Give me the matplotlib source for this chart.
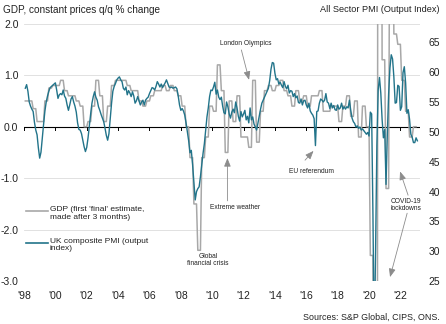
import numpy as np
import matplotlib.pyplot as plt

plt.rcParams['font.family'] = ['Liberation Sans', 'DejaVu Sans']

# UK composite PMI (output index), monthly, Jan 1998 onwards
pmi_1998_2002 = [
    57.3, 57.9, 56.8, 55.0, 54.3, 53.8, 53.4, 51.6, 50.3, 49.5, 47.3, 45.6,
    46.6, 49.0, 51.3, 53.5, 55.0, 56.0, 56.8, 57.4, 57.6, 57.8, 58.0, 58.2,
    57.0, 55.6, 56.2, 56.4, 56.2, 57.0, 56.0, 55.6, 54.5, 53.6, 54.5, 55.5,
    55.9, 55.0, 54.3, 53.3, 51.5, 50.4, 50.3, 49.7, 48.6, 47.5, 46.7, 47.4,
    49.0, 51.0, 53.0, 54.8, 55.9, 56.7, 55.8, 55.3, 54.2, 53.6, 52.9, 52.3,
]
pmi_2003_2007 = [
    51.7, 50.6, 49.4, 48.6, 49.7, 52.3, 54.8, 56.8, 57.6, 58.1, 58.7, 59.0,
    59.2, 58.7, 58.4, 57.3, 57.0, 57.5, 56.2, 56.9, 56.5, 55.9, 56.7, 56.0,
    54.8, 55.2, 55.9, 55.2, 54.5, 55.0, 55.3, 54.5, 55.3, 55.6, 55.8, 56.4,
    56.9, 57.4, 57.3, 57.0, 57.6, 58.4, 58.0, 57.5, 58.0, 57.4, 57.8, 58.2,
    58.7, 58.1, 57.5, 57.4, 57.5, 57.3, 57.4, 57.5, 57.2, 56.0, 54.5, 53.6,
]
pmi_2008_2012 = [
    53.9, 53.5, 52.8, 51.5, 50.0, 48.5, 46.5, 46.9, 44.5, 41.5, 38.6, 40.0,
    40.5, 40.8, 42.5, 44.5, 46.4, 48.0, 50.3, 52.5, 54.0, 55.9, 57.0, 56.9,
    57.5, 58.3, 56.3, 57.0, 55.8, 55.4, 55.8, 54.3, 53.2, 53.0, 55.0, 54.2,
    53.0, 52.3, 53.3, 53.8, 53.2, 55.0, 54.0, 52.6, 51.8, 53.4, 52.5, 53.0,
    53.6, 52.0, 52.6, 51.5, 54.0, 52.0, 52.5, 51.3, 50.8, 50.3, 51.5, 52.8,
]
pmi_2013_2017 = [
    53.8, 54.8, 55.3, 55.8, 56.3, 56.8, 57.3, 58.6, 60.5, 61.6, 61.5, 59.8,
    58.7, 58.9, 58.0, 58.3, 57.8, 57.4, 58.4, 57.6, 57.2, 57.8, 56.5, 56.9,
    56.8, 55.9, 56.4, 55.7, 56.0, 54.9, 54.8, 55.5, 54.5, 55.2, 55.3, 54.5,
    54.0, 54.8, 53.5, 53.1, 52.8, 52.2, 47.7, 53.4, 53.5, 54.8, 55.5, 55.3,
    55.0, 55.3, 56.4, 55.0, 54.8, 53.9, 54.8, 54.0, 54.4, 53.7, 53.6, 54.5,
]
pmi_2018_2023 = [
    53.8, 54.0, 54.8, 53.8, 54.2, 53.8, 54.2, 54.0, 55.3, 53.6, 52.3, 51.7,
    51.4, 50.8, 51.0, 50.6, 50.8, 50.3, 50.5, 50.2, 49.9, 49.6, 49.9, 49.3,
    53.3, 53.0, 36.0, 13.8, 30.0, 47.7, 57.0, 59.1, 56.5, 52.1, 49.0, 50.4,
    41.2, 49.6, 56.4, 60.7, 62.9, 62.2, 59.2, 54.8, 54.9, 57.8, 57.6, 53.6,
    54.2, 59.9, 60.9, 58.2, 53.1, 53.7, 52.1, 49.6, 49.1, 48.2, 48.2, 49.0,
    48.5,
]

# GDP q/q % change (first 'final' estimate), quarterly, 1998Q1 onwards
gdp_1998_2004 = [
    0.5, 0.5, 0.35, 0.1,
    0.1, 0.5, 0.75, 0.8,
    0.8, 0.9, 0.7, 0.6,
    0.6, 0.5, 0.4, 0.0,
    0.1, 0.4, 0.9, 0.6,
    0.1, 0.4, 0.8, 0.9,
    0.9, 0.9, 0.8, 0.7,
]
gdp_2005_2011 = [
    0.7, 0.5, 0.4, 0.5,
    0.6, 0.7, 0.7, 0.8,
    0.7, 0.8, 0.7, 0.6,
    0.4, 0.0, -0.6, -1.5,
    -2.4, -0.6, -0.2, 0.4,
    0.3, 1.2, 0.7, -0.5,
    0.5, 0.1, 0.6, -0.2,
]
gdp_2012_2018 = [
    -0.2, -0.4, 0.9, -0.3,
    0.3, 0.7, 0.8, 0.7,
    0.8, 0.9, 0.7, 0.6,
    0.4, 0.7, 0.5, 0.6,
    0.4, 0.6, 0.6, 0.7,
    0.3, 0.3, 0.4, 0.4,
    0.1, 0.4, 0.6, 0.2,
]
gdp_2019_2022 = [
    0.5, -0.2, 0.4, 0.0,
    -2.5, -19.8, 16.0, 1.3,
    -1.2, 5.5, 1.8, 1.6,
    0.9, 0.3, -0.2, 0.0,
]

year_ticks = list(range(1998, 2023, 2))
year_labels = ["'" + str(y)[2:] for y in year_ticks]
gdp_ticks = [-3, -2, -1, 0, 1, 2]
pmi_ticks = [25, 30, 35, 40, 45, 50, 55, 60, 65]

pmi = np.array(pmi_1998_2002 + pmi_2003_2007 + pmi_2008_2012 + pmi_2013_2017 + pmi_2018_2023)
gdp_q = np.array(gdp_1998_2004 + gdp_2005_2011 + gdp_2012_2018 + gdp_2019_2022)
gdp = np.repeat(gdp_q, 3)          # quarterly value held for each month of the quarter

# monthly values plotted at month end
pmi_x = 1998 + np.arange(1, len(pmi) + 1) / 12
gdp_x = 1998 + np.arange(1, len(gdp) + 1) / 12

TEAL = '#22748a'
GREY = '#a8a8a8'
TXT = '#222222'
ARROW = '#8c8c8c'

W, H = 446, 324
fig = plt.figure(figsize=(W / 100, H / 100), dpi=100)
ax = fig.add_axes([24 / W, 1 - 281.2 / H, 396 / W, 257.5 / H])
ax2 = ax.twinx()

ax.set_xlim(1998, 2023.25)
ax.set_ylim(-3, 2)
ax2.set_ylim(25, 68.1)

for y in gdp_ticks:
    ax.axhline(y, color='#dcdcdc', lw=0.6, zorder=0)
ax.axhline(0, color='black', lw=0.8, zorder=1)
for yr in year_ticks:
    ax.plot([yr, yr], [0, -0.06], color='black', lw=0.7, zorder=1)

ax.plot(gdp_x, gdp, color=GREY, lw=1.1, zorder=2)
ax2.plot(pmi_x, pmi, color=TEAL, lw=1.0, zorder=3)

for a in (ax, ax2):
    for s in a.spines.values():
        s.set_visible(False)

ax.set_yticks(gdp_ticks)
ax.set_yticklabels(['%.1f' % v for v in gdp_ticks])
ax.set_xticks(year_ticks)
ax.set_xticklabels(year_labels)
ax.tick_params(axis='both', length=0, labelsize=7.5, colors=TXT)
ax.tick_params(axis='y', pad=4)
ax.tick_params(axis='x', pad=7)
ax2.set_yticks(pmi_ticks)
ax2.tick_params(axis='y', length=0, labelsize=7.5, colors=TXT, pad=6)

# titles and source
fig.text(3 / W, 1 - 10 / H, 'GDP, constant prices q/q % change', fontsize=7.2,
         color=TXT, va='center', ha='left')
fig.text(439 / W, 1 - 10 / H, 'All Sector PMI (Output Index)', fontsize=6.6,
         color=TXT, va='center', ha='right')
fig.text(440 / W, 1 - 317 / H, 'Sources: S&P Global, CIPS, ONS.', fontsize=6.4,
         color=TXT, va='center', ha='right')

# legend drawn by hand so the swatch sits on the first text line
def fig_xy(px, py):
    return px / W, 1 - py / H

for (py, col, label) in [(211.3, GREY, "GDP (first 'final' estimate,\nmade after 3 months)"),
                         (242.7, TEAL, 'UK composite PMI (output\nindex)')]:
    x0, yy = fig_xy(26, py)
    x1, _ = fig_xy(48, py)
    fig.add_artist(plt.Line2D([x0, x1], [yy, yy], color=col, lw=1.2))
    tx, ty = fig_xy(50, py - 5)
    fig.text(tx, ty, label, fontsize=6, color=TXT, va='top', ha='left', linespacing=1.15)

# annotations
note = dict(fontsize=4.8, color=TXT, ha='center', va='center')
arrow = dict(arrowstyle='-|>,head_length=0.5,head_width=0.2', color=ARROW, lw=0.6,
             shrinkA=0, shrinkB=0)
ax.text(2012.16, 1.625, 'London Olympics', **note)
ax.annotate('', xy=(2012.35, 0.91), xytext=(2011.86, 1.49), arrowprops=arrow)
ax.text(2011.46, -1.56, 'Extreme weather', **note)
ax.annotate('', xy=(2010.97, -0.61), xytext=(2010.97, -1.44), arrowprops=arrow)
ax.text(2009.73, -2.594, 'Global\nfinancial crisis', linespacing=1.0, **note)
ax.text(2016.34, -0.866, 'EU referendum', **note)
ax.annotate('', xy=(2016.46, -0.47), xytext=(2015.92, -0.65), arrowprops=arrow)
ax.text(2022.33, -1.515, 'COVID-19\nlockdowns', linespacing=1.0, **note)
ax.annotate('', xy=(2021.98, -0.87), xytext=(2022.49, -1.33), arrowprops=arrow)
ax.annotate('', xy=(2021.34, -2.92), xytext=(2022.43, -1.68), arrowprops=arrow)

fig.savefig('out.png', dpi=100)
